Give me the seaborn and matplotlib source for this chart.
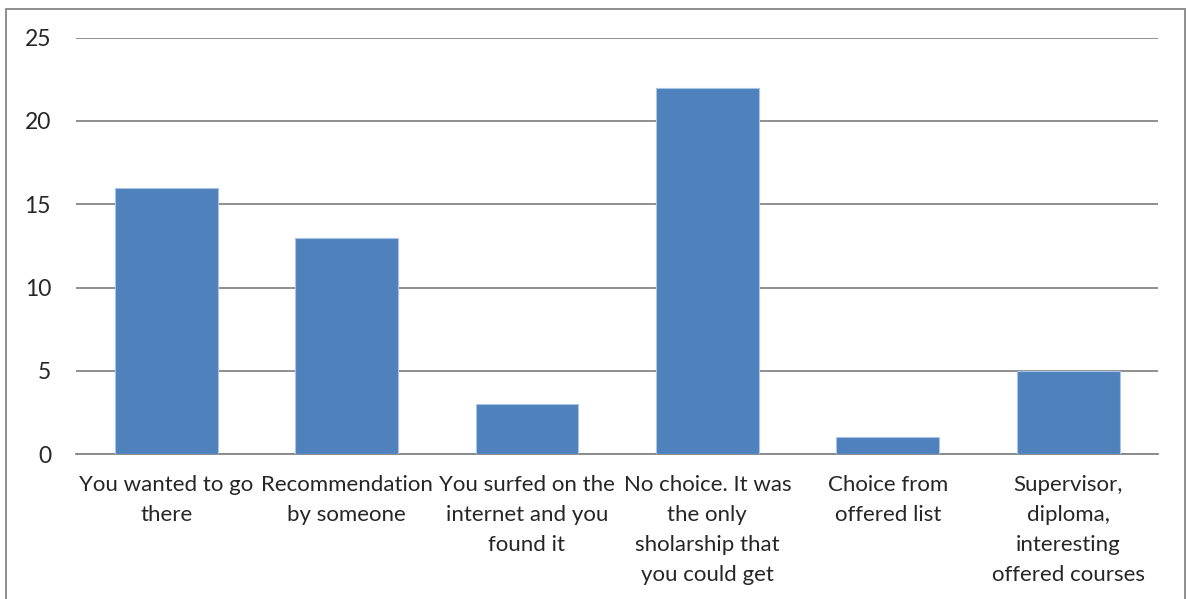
import matplotlib
matplotlib.use("Agg")
import matplotlib.pyplot as plt
import seaborn as sns
import pandas as pd
from matplotlib.patches import Rectangle

# reasons for choosing the host institution
reasons = [
    "You wanted to go\nthere",
    "Recommendation\nby someone",
    "You surfed on the\ninternet and you\nfound it",
    "No choice. It was\nthe only\nsholarship that\nyou could get",
    "Choice from\noffered list",
    "Supervisor,\ndiploma,\ninteresting\noffered courses",
]
counts = [16, 13, 3, 22, 1, 5]

df = pd.DataFrame({"reason": reasons, "count": counts})

sns.set_style("white")
plt.rcParams['font.family'] = ['Lato', 'DejaVu Sans']

fig = plt.figure(figsize=(11.88, 5.99), dpi=100)
ax = fig.add_axes([0.064, 0.242, 0.911, 0.695])

sns.barplot(data=df, x="reason", y="count", color="#4F81BD", saturation=1,
            width=0.57, ax=ax, zorder=3, edgecolor="#A9C4E6", linewidth=0.8)

ax.set_ylim(0, 25)
ax.set_yticks([0, 5, 10, 15, 20, 25])
ax.set_xlim(-0.5, len(reasons) - 0.5)
ax.grid(axis="y", color="#868686", linewidth=1.3, zorder=0)
ax.set_axisbelow(True)
for s in ["left", "right", "top"]:
    ax.spines[s].set_visible(False)
ax.spines["bottom"].set_color("#868686")
ax.spines["bottom"].set_linewidth(1.3)
ax.tick_params(axis="y", length=0, pad=18, labelsize=16.5)
ax.tick_params(axis="x", length=0, pad=15, labelsize=16)
ax.set_xlabel("")
ax.set_ylabel("")
for lbl in ax.get_xticklabels():
    lbl.set_linespacing(1.62)

# outer chart frame
fig.patches.append(Rectangle((6 / 1188, -0.05), 1179 / 1188, 1 - 9 / 599 + 0.05,
                             transform=fig.transFigure, fill=False,
                             edgecolor="#868686", linewidth=1.3))

fig.savefig("out.png", dpi=100)
